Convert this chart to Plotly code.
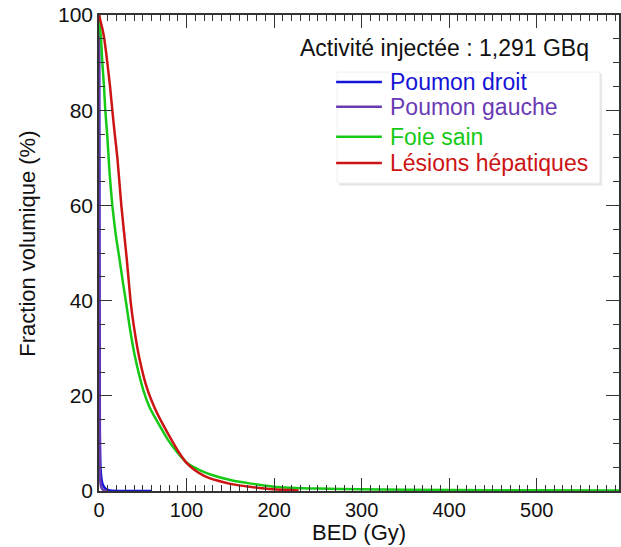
import plotly.graph_objects as go

# BED (Gy) / fraction volumique (%)
droit_x = [0, 0.3, 0.6, 1, 1.5, 2, 3, 4, 6, 8, 11, 15, 25, 40, 60]
droit_y = [100, 70, 35, 12, 6, 4, 2.3, 1.5, 0.8, 0.4, 0.15, 0.05, 0.02, 0.01, 0]

gauche_x = [0, 0.2, 0.5, 0.8, 1.2, 2, 3, 5, 8, 10]
gauche_y = [100, 70, 30, 8, 3, 1.2, 0.6, 0.2, 0.05, 0]

foie_x = [0, 1, 2.3, 3.8, 5.7, 7.2, 9.5, 12, 15.2, 19, 23.2, 28, 31, 35, 41, 50.6, 58,
          67.8, 79, 90, 100, 115, 130, 150, 172, 200, 250, 300, 400, 500, 594]
foie_y = [100, 97.5, 95, 90, 85, 80, 74.5, 67, 60, 54, 49, 43, 39.5, 34.5, 28.3, 21.2,
          17.5, 14.2, 10.7, 8, 6, 4.4, 3.3, 2.3, 1.6, 0.9, 0.5, 0.35, 0.2, 0.15, 0.1]

lesions_x = [0, 2, 4, 6, 9.5, 12.6, 15.2, 18.3, 21, 25.5, 31.6, 36, 39.5, 46, 55, 64,
             73, 83, 91, 100, 110, 120, 135, 150, 172, 199, 228]
lesions_y = [100, 98.5, 97, 95, 90, 85, 80, 74.5, 70, 60, 49, 40, 35, 28, 21.5, 17.3,
             14, 10.7, 8.2, 5.9, 4.3, 3.2, 2.2, 1.5, 0.9, 0.35, 0.1]

names = ["Poumon droit", "Poumon gauche", "Foie sain", "Lésions hépatiques"]
colors = ["#1414d6", "#6a3ab5", "#16c916", "#cc1414"]
xs_all = [droit_x, gauche_x, foie_x, lesions_x]
ys_all = [droit_y, gauche_y, foie_y, lesions_y]

FONT = "Liberation Sans, Arial, Helvetica, sans-serif"
INK = "#111111"

fig = go.Figure()
for name, xs, ys, color in zip(names, xs_all, ys_all, colors):
    fig.add_trace(go.Scatter(
        x=xs, y=ys, mode="lines", name=name, showlegend=False,
        line=dict(color=color, width=2.5, shape="spline", smoothing=0.5),
    ))

axis_common = dict(
    showline=True, linecolor="#333333", linewidth=1.5, mirror="ticks",
    ticks="inside", ticklen=13, tickwidth=1.3, tickcolor="#333333",
    showgrid=False, zeroline=False, automargin=False, ticklabeloverflow="allow",
    tickfont=dict(size=21, color=INK, family=FONT),
)

# hand-drawn legend box (line samples + coloured labels)
shapes = [
    dict(type="rect", xref="paper", yref="paper", x0=0.462, x1=0.967, y0=0.642, y1=0.877,
         fillcolor="#e4e4e4", line=dict(width=0), layer="above"),
    dict(type="rect", xref="paper", yref="paper", x0=0.458, x1=0.963, y0=0.647, y1=0.880,
         fillcolor="white", line=dict(color="#f0f0f0", width=1), layer="above"),
]
annotations = []
legend_y = [0.859, 0.807, 0.744, 0.689]
for name, color, ly in zip(names, colors, legend_y):
    shapes.append(dict(type="line", xref="paper", yref="paper", x0=0.456, x1=0.544,
                       y0=ly, y1=ly, line=dict(color=color, width=2.5), layer="above"))
    annotations.append(dict(text=name, xref="paper", yref="paper", x=0.556, y=ly,
                            xanchor="left", yanchor="middle", showarrow=False,
                            font=dict(size=23, color=color, family=FONT)))

annotations += [
    dict(text="Activité injectée : 1,291 GBq", xref="paper", yref="paper",
         x=0.665, y=0.931, xanchor="center", yanchor="middle", showarrow=False,
         font=dict(size=23, color=INK, family=FONT)),
    dict(text="BED (Gy)", xref="paper", yref="paper", x=0.5, y=-0.056,
         xanchor="center", yanchor="top", showarrow=False,
         font=dict(size=22, color=INK, family=FONT)),
    dict(text="Fraction volumique (%)", xref="paper", yref="paper",
         x=-0.138, y=0.52, xanchor="center", yanchor="middle", textangle=-90,
         showarrow=False, font=dict(size=22, color=INK, family=FONT)),
]

fig.update_layout(
    width=621, height=547,
    margin=dict(l=99, r=2, t=15, b=56),
    paper_bgcolor="white", plot_bgcolor="white",
    font=dict(family=FONT, size=21, color=INK),
    showlegend=False,
    xaxis=dict(
        range=[0, 594], tickvals=[0, 100, 200, 300, 400, 500],
        minor=dict(dtick=10, tick0=0, ticks="inside", ticklen=6, tickcolor="#333333"),
        **dict(axis_common, tickfont=dict(size=20, color=INK, family=FONT)),
    ),
    yaxis=dict(
        range=[0, 100], dtick=20,
        minor=dict(dtick=5, tick0=0, ticks="inside", ticklen=6, tickcolor="#333333"),
        **axis_common,
    ),
    shapes=shapes,
    annotations=annotations,
)

# drop the page's default body margin so the figure sits at the window's corner
fig.write_html("out.html", config={"displayModeBar": False},
               post_script="document.body.style.margin = '0';")
